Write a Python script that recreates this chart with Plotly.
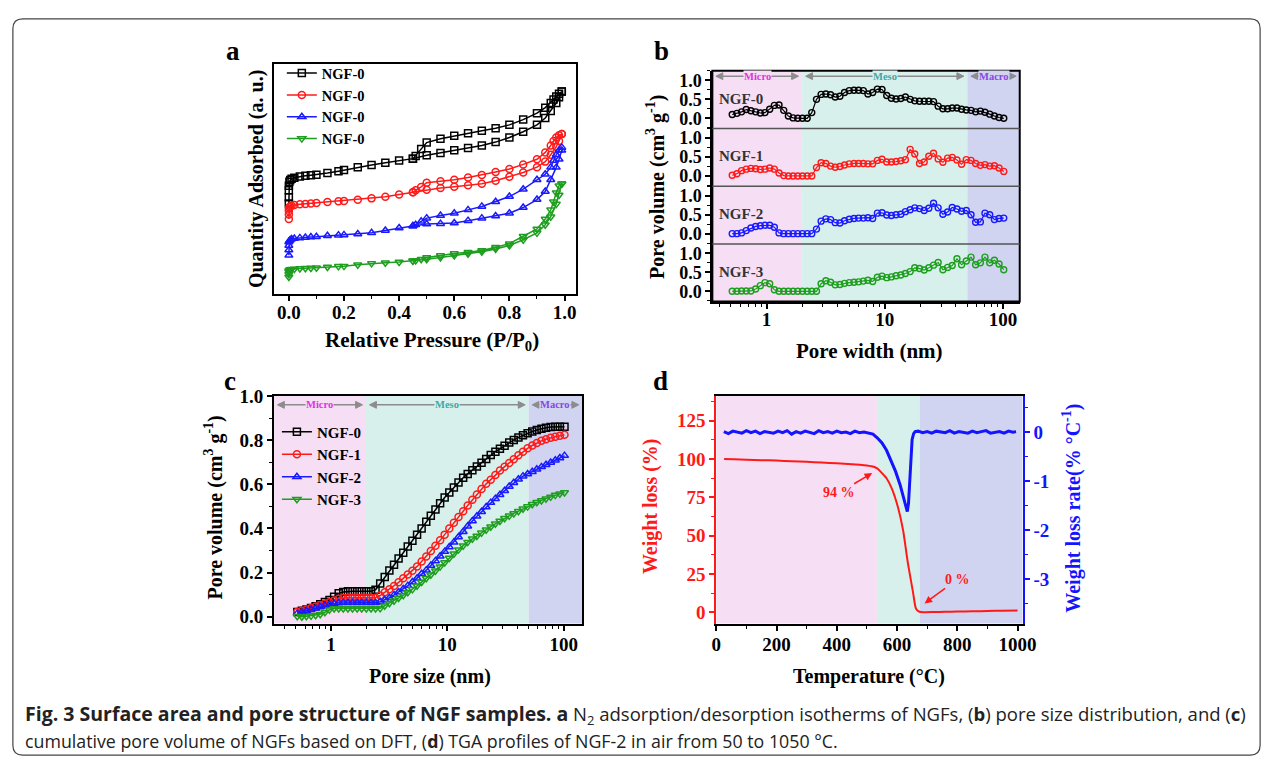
import math
import plotly.graph_objects as go

# ---------------- data ----------------
# (a) N2 adsorption / desorption isotherms (relative pressure, arbitrary units)
p_ads = [0.0, 0.0, 0.0, 0.0, 0.002, 0.005, 0.01, 0.02, 0.04, 0.06, 0.08, 0.1, 0.14, 0.18, 0.2,
         0.25, 0.3, 0.35, 0.4, 0.45, 0.5, 0.55, 0.6, 0.65, 0.7, 0.75, 0.8, 0.85, 0.9, 0.93,
         0.95, 0.97, 0.98, 0.99]
p_des = [0.99, 0.98, 0.97, 0.96, 0.95, 0.93, 0.9, 0.85, 0.8, 0.75, 0.7, 0.65, 0.6, 0.55, 0.5,
         0.48, 0.46, 0.45]
iso0_ads = [39.3, 42, 45, 47, 48.7, 49.5, 50.0, 50.5, 51, 51.3, 51.6, 51.8, 52.5, 53.3, 53.8, 55,
            56, 57, 58, 58.8, 60.3, 61.3, 62.4, 63.4, 64.5, 66, 68, 70.5, 73.5, 76.5, 79.5, 83,
            85.5, 88]
iso0_des = [88, 87, 85.8, 84.5, 83, 81, 78.6, 75.8, 73.5, 72, 70.9, 69.8, 68.8, 67.5, 65.8, 63,
            60, 58.8]
iso1_ads = [32.5, 34.5, 36, 37, 37.6, 38, 38.3, 38.6, 38.9, 39.1, 39.3, 39.5, 39.9, 40.2, 40.4,
            40.9, 41.5, 42.2, 43.2, 44.2, 45.3, 46, 46.6, 47.2, 47.9, 49.2, 50.9, 52.8, 55.1,
            57.5, 60.5, 64, 66.5, 69.5]
iso1_des = [69.5, 69, 68, 66.5, 64.5, 61.5, 58.5, 56.3, 54.3, 53, 51.7, 50.6, 49.6, 49, 48.3,
            46.5, 45, 44.2]
iso2_ads = [16.7, 19, 21, 22.5, 23, 23.4, 23.8, 24, 24.3, 24.5, 24.7, 24.8, 25.2, 25.5, 25.6, 26,
            26.5, 27.5, 28.6, 29.5, 30.3, 30.5, 30.8, 31.8, 32.9, 33.8, 35, 37.5, 41, 44.5, 49.6,
            55, 58.5, 62.4]
iso2_des = [63.7, 62.5, 60.5, 58, 55.1, 52, 49.6, 45.5, 42.3, 40, 38, 36.5, 35, 34, 32.9, 31.5,
            30, 29.5]
iso3_ads = [7.3, 8.5, 9.5, 10, 10.3, 10.5, 10.7, 10.8, 11, 11.1, 11.2, 11.3, 11.6, 11.9, 12, 12.6,
            13.2, 13.5, 13.8, 14.3, 15, 15.8, 16.6, 17.4, 18.3, 19.5, 21, 23.5, 26.5, 30, 33.5,
            39, 43, 47.9]
iso3_des = [47.9, 47, 44, 40, 36.5, 32.5, 28.2, 25, 21.8, 20.2, 18.8, 18, 17.5, 16.6, 15.8, 15,
            14.5, 14.3]
iso_legend_names = ["NGF-0", "NGF-0", "NGF-0", "NGF-0"]

# (b) pore size distribution and (c) cumulative pore volume (DFT), pore width in nm
pore_width = [0.513, 0.562, 0.615, 0.674, 0.738, 0.809, 0.887, 0.971, 1.064, 1.165, 1.276, 1.399,
              1.531, 1.679, 1.837, 2.014, 2.208, 2.415, 2.648, 2.897, 3.177, 3.483, 3.811, 4.178,
              4.571, 5.012, 5.495, 6.012, 6.592, 7.211, 7.907, 8.670, 9.484, 10.40, 11.38, 12.47,
              13.68, 14.96, 16.41, 17.95, 19.68, 21.58, 23.61, 25.88, 28.31, 31.05, 34.04, 37.24,
              40.83, 44.67, 48.98, 53.70, 58.75, 64.42, 70.47, 77.27, 84.72, 92.68, 101.6]
psd_ngf0 = [0.10, 0.13, 0.17, 0.23, 0.20, 0.17, 0.14, 0.15, 0.24, 0.34,
            0.35, 0.21, 0.06, 0.01, 0.0, 0.0, 0.0, 0.15, 0.50, 0.63,
            0.64, 0.62, 0.56, 0.58, 0.68, 0.73, 0.74, 0.74, 0.73, 0.64,
            0.68, 0.77, 0.76, 0.60, 0.53, 0.51, 0.52, 0.56, 0.50, 0.46,
            0.45, 0.45, 0.45, 0.44, 0.32, 0.25, 0.25, 0.27, 0.27, 0.24,
            0.22, 0.21, 0.17, 0.19, 0.16, 0.11, 0.06, 0.02, 0.0]
psd_ngf1 = [0.02, 0.06, 0.14, 0.18, 0.20, 0.19, 0.17, 0.18, 0.21, 0.18,
            0.08, 0.01, 0.0, 0.0, 0.0, 0.0, 0.0, 0.0, 0.22, 0.35,
            0.33, 0.26, 0.23, 0.25, 0.29, 0.32, 0.33, 0.33, 0.33, 0.32,
            0.32, 0.41, 0.44, 0.37, 0.37, 0.38, 0.40, 0.43, 0.70, 0.58,
            0.33, 0.37, 0.52, 0.60, 0.45, 0.36, 0.47, 0.49, 0.42, 0.31,
            0.43, 0.41, 0.33, 0.28, 0.30, 0.26, 0.27, 0.21, 0.12]
psd_ngf2 = [0.0, 0.0, 0.02, 0.08, 0.15, 0.19, 0.21, 0.22, 0.22, 0.17,
            0.02, 0.0, 0.0, 0.0, 0.0, 0.0, 0.0, 0.0, 0.12, 0.33,
            0.39, 0.37, 0.29, 0.28, 0.34, 0.38, 0.40, 0.41, 0.41, 0.42,
            0.40, 0.54, 0.55, 0.49, 0.48, 0.50, 0.51, 0.58, 0.63, 0.68,
            0.66, 0.61, 0.67, 0.80, 0.68, 0.51, 0.57, 0.69, 0.65, 0.59,
            0.61, 0.50, 0.30, 0.31, 0.54, 0.50, 0.37, 0.40, 0.41]
psd_ngf3 = [0.0, 0.0, 0.01, 0.01, 0.01, 0.06, 0.15, 0.23, 0.20, 0.04,
            0.0, 0.0, 0.0, 0.0, 0.0, 0.0, 0.0, 0.0, 0.0, 0.20,
            0.28, 0.24, 0.17, 0.18, 0.21, 0.23, 0.24, 0.25, 0.27, 0.29,
            0.26, 0.37, 0.40, 0.36, 0.38, 0.41, 0.43, 0.47, 0.52, 0.62,
            0.60, 0.56, 0.62, 0.69, 0.76, 0.57, 0.63, 0.68, 0.86, 0.70,
            0.80, 0.90, 0.70, 0.75, 0.90, 0.75, 0.82, 0.72, 0.57]
cum_ngf0 = [0.021, 0.027, 0.033, 0.039, 0.048, 0.057, 0.067, 0.076, 0.090, 0.106,
            0.112, 0.115, 0.115, 0.115, 0.115, 0.115, 0.115, 0.122, 0.150, 0.180,
            0.210, 0.236, 0.264, 0.290, 0.318, 0.344, 0.372, 0.400, 0.430, 0.458,
            0.486, 0.514, 0.540, 0.563, 0.586, 0.608, 0.630, 0.647, 0.664, 0.681,
            0.698, 0.715, 0.733, 0.748, 0.761, 0.775, 0.789, 0.801, 0.812, 0.822,
            0.831, 0.839, 0.846, 0.852, 0.856, 0.860, 0.861, 0.861, 0.861]
cum_ngf1 = [0.022, 0.027, 0.033, 0.039, 0.046, 0.053, 0.060, 0.066, 0.073, 0.081,
            0.085, 0.086, 0.086, 0.086, 0.086, 0.086, 0.086, 0.086, 0.096, 0.111,
            0.124, 0.139, 0.156, 0.174, 0.191, 0.208, 0.228, 0.250, 0.273, 0.298,
            0.322, 0.346, 0.372, 0.400, 0.426, 0.452, 0.478, 0.504, 0.530, 0.554,
            0.579, 0.602, 0.621, 0.642, 0.662, 0.680, 0.697, 0.714, 0.732, 0.748,
            0.763, 0.776, 0.787, 0.797, 0.804, 0.811, 0.816, 0.820, 0.824]
cum_ngf2 = [0.015, 0.020, 0.026, 0.033, 0.038, 0.044, 0.050, 0.055, 0.059, 0.062,
            0.063, 0.063, 0.063, 0.063, 0.063, 0.063, 0.063, 0.063, 0.068, 0.076,
            0.086, 0.099, 0.112, 0.126, 0.141, 0.157, 0.174, 0.195, 0.211, 0.232,
            0.253, 0.274, 0.295, 0.316, 0.337, 0.361, 0.385, 0.410, 0.434, 0.455,
            0.476, 0.497, 0.517, 0.535, 0.553, 0.571, 0.590, 0.607, 0.623, 0.637,
            0.647, 0.657, 0.668, 0.679, 0.689, 0.699, 0.709, 0.719, 0.730]
cum_ngf3 = [0.002, 0.0, 0.002, 0.004, 0.007, 0.011, 0.020, 0.032, 0.037, 0.037,
            0.037, 0.037, 0.037, 0.037, 0.037, 0.037, 0.037, 0.037, 0.038, 0.050,
            0.061, 0.072, 0.085, 0.097, 0.111, 0.124, 0.140, 0.157, 0.174, 0.190,
            0.208, 0.227, 0.246, 0.266, 0.285, 0.304, 0.322, 0.338, 0.353, 0.366,
            0.380, 0.394, 0.408, 0.421, 0.434, 0.446, 0.457, 0.468, 0.478, 0.489,
            0.499, 0.510, 0.519, 0.527, 0.535, 0.543, 0.551, 0.557, 0.563]
sample_names = ["NGF-0", "NGF-1", "NGF-2", "NGF-3"]
pore_regions = [("Micro", 2.0), ("Meso", 50.0), ("Macro", None)]   # upper bounds, nm

# (d) TGA of NGF-2 in air
tga_T = [26, 60, 100, 150, 200, 250, 300, 350, 400, 450, 490, 516, 535, 549, 565, 582, 603, 620,
         636, 653, 663, 674, 690, 720, 760, 800, 850, 900, 950, 1000]
tga_weight = [100, 99.8, 99.6, 99.3, 99.0, 98.6, 98.2, 97.7, 97.2, 96.6, 96.0, 95.3, 93.8, 91.0,
              87.5, 81.0, 68.5, 53.5, 32.0, 13.0, 2.2, 0.3, 0.0, 0.1, 0.3, 0.4, 0.6, 0.8, 1.0, 1.2]
dtg_T = [25, 40, 55, 70, 85, 100, 115, 130, 145, 160, 175, 190, 205, 220, 235, 250, 265, 280, 295,
         310, 325, 340, 355, 370, 385, 400, 415, 430, 445, 460, 475, 490, 505, 520, 535, 550, 565,
         580, 595, 610, 620, 628, 634, 638, 642, 646, 650, 655, 660, 670, 685, 700, 715, 730, 745,
         760, 775, 790, 805, 820, 835, 850, 865, 880, 895, 910, 925, 940, 955, 970, 985, 995]
dtg_rate = [0.01, -0.03, 0.02, 0.0, -0.02, 0.03, -0.01, 0.02, -0.03, 0.01, 0.0, -0.02, 0.02, -0.01,
            0.03, -0.04, 0.01, -0.02, 0.02, 0.0, -0.03, 0.03, -0.01, 0.01, -0.02, 0.02, -0.01, 0.0,
            -0.03, 0.02, -0.01, 0.0, -0.02,
            -0.04, -0.12, -0.22, -0.37, -0.57, -0.80, -1.07, -1.30, -1.50, -1.62, -1.45, -0.95,
            -0.50, -0.15, -0.03, 0.01,
            0.02, -0.01, 0.01, -0.02, 0.02, 0.0, -0.01, 0.03, -0.02, 0.01, 0.0, -0.02, 0.02, -0.01,
            0.01, 0.03, -0.02, 0.0, 0.01, -0.02, 0.02, 0.0, 0.01]
tga_regions = [0, 533, 675, 1017]   # region boundaries, deg C
tga_notes = [("94 %", 523, 91.5, 407, 78), ("0 %", 686, 5.0, 800, 21.5)]

# ---------------- styling / layout helpers ----------------
W, H = 1282, 765
SERIF = "Liberation Serif"
COLORS = ["#000000", "#ff1a1a", "#1a1aff", "#1e9e1e"]
SYM = ["square-open", "circle-open", "triangle-up-open", "triangle-down-open"]
REG_COL = ["rgb(246,222,244)", "rgb(216,240,236)", "rgb(208,212,240)"]
REG_TXT = ["#e033e0", "#3aa9a9", "#8a45e6"]
ARROW_COL = "#8c8c8c"
TICK = 19
TITLE = 20


def fx(px):
    return px / W


def fy(py):
    return 1 - py / H


fig = go.Figure()

# panel a
iso_ads = [iso0_ads, iso1_ads, iso2_ads, iso3_ads]
iso_des = [iso0_des, iso1_des, iso2_des, iso3_des]
for i in range(4):
    fig.add_trace(go.Scatter(
        x=p_ads + p_des, y=iso_ads[i] + iso_des[i], mode="lines+markers",
        name=iso_legend_names[i], legend="legend",
        line=dict(color=COLORS[i], width=1.5),
        marker=dict(symbol=SYM[i], size=7, color=COLORS[i], line=dict(width=1.5, color=COLORS[i])),
        xaxis="x", yaxis="y"))

# panel b
psd = [psd_ngf0, psd_ngf1, psd_ngf2, psd_ngf3]
for i in range(4):
    fig.add_trace(go.Scatter(
        x=pore_width, y=psd[i], mode="lines+markers", showlegend=False,
        line=dict(color=COLORS[i], width=1.2),
        marker=dict(symbol="circle-open", size=6, color=COLORS[i], line=dict(width=1.4, color=COLORS[i])),
        xaxis="x2", yaxis="y%d" % (2 + i)))

# panel c
cum = [cum_ngf0, cum_ngf1, cum_ngf2, cum_ngf3]
for i in range(4):
    fig.add_trace(go.Scatter(
        x=pore_width, y=cum[i], mode="lines+markers", name=sample_names[i], legend="legend2",
        line=dict(color=COLORS[i], width=1.5),
        marker=dict(symbol=SYM[i], size=7, color=COLORS[i], line=dict(width=1.5, color=COLORS[i])),
        xaxis="x3", yaxis="y6"))

# panel d
fig.add_trace(go.Scatter(x=tga_T, y=tga_weight, mode="lines", showlegend=False,
                         line=dict(color="#ff1a1a", width=2, shape="spline", smoothing=0.6),
                         xaxis="x4", yaxis="y7"))
fig.add_trace(go.Scatter(x=dtg_T, y=dtg_rate, mode="lines", showlegend=False,
                         line=dict(color="#1414ff", width=3),
                         xaxis="x4", yaxis="y8"))

tickfont = dict(family=SERIF, size=TICK, color="black", weight="bold")
common = dict(showline=True, linecolor="black", linewidth=2, ticks="outside", ticklen=5,
              tickwidth=1.5, tickcolor="black", showgrid=False, zeroline=False, tickfont=tickfont)
log_minor = [m * 10 ** e for e in (-1, 0, 1, 2) for m in range(2, 10)]

# geometry (pixels)
A_BOX = (273, 580, 55, 289)
B_BOX = (718, 1030, 62, 297)
C_BOX = (273, 586, 393, 625)
D_BOX = (722, 1033, 393, 625)
B_RANGE = [-0.458, 2.142]
B_YRANGE = [-0.27, 1.25]
C_RANGE = [-0.49, 2.16]
C_YRANGE = [-0.031, 1.001]
b_h = (B_BOX[3] - B_BOX[2]) / 4.0

layout = dict(
    width=W, height=H, autosize=False, margin=dict(l=0, r=0, t=0, b=0),
    paper_bgcolor="white", plot_bgcolor="rgba(0,0,0,0)",
    font=dict(family=SERIF, size=16, color="black", weight="bold"),
    xaxis=dict(common, domain=[fx(A_BOX[0]), fx(A_BOX[1])], anchor="y", range=[-0.054, 1.043],
               tick0=0, dtick=0.2, tickformat=".1f", mirror=True, ticklabelstandoff=-5,
               minor=dict(dtick=0.1, ticks="outside", ticklen=3, tickcolor="black", tickwidth=1.2)),
    yaxis=dict(common, domain=[fy(A_BOX[3]), fy(A_BOX[2])], anchor="x", range=[0, 100],
               showticklabels=False, ticks="", mirror=True),
    xaxis2=dict(common, type="log", domain=[fx(B_BOX[0]), fx(B_BOX[1])], anchor="y5", range=B_RANGE,
                tickvals=[1, 10, 100], ticktext=["1", "10", "100"], ticklabelstandoff=-5,
                minor=dict(tickvals=log_minor, ticks="outside", ticklen=3, tickcolor="black", tickwidth=1.2)),
    xaxis3=dict(common, type="log", domain=[fx(C_BOX[0]), fx(C_BOX[1])], anchor="y6", range=C_RANGE,
                tickvals=[1, 10, 100], ticktext=["1", "10", "100"], mirror=True, ticklabelstandoff=-2,
                minor=dict(tickvals=log_minor, ticks="outside", ticklen=3, tickcolor="black", tickwidth=1.2)),
    yaxis6=dict(common, domain=[fy(C_BOX[3]), fy(C_BOX[2])], anchor="x3", range=C_YRANGE,
                tick0=0, dtick=0.2, tickformat=".1f", mirror=True,
                minor=dict(dtick=0.1, ticks="outside", ticklen=3, tickcolor="black", tickwidth=1.2)),
    xaxis4=dict(common, domain=[fx(D_BOX[0]), fx(D_BOX[1])], anchor="y7", range=[0, 1017],
                tick0=0, dtick=200, mirror=True, ticklabelstandoff=-2,
                minor=dict(dtick=100, ticks="outside", ticklen=3, tickcolor="black", tickwidth=1.2)),
    yaxis7=dict(common, domain=[fy(D_BOX[3]), fy(D_BOX[2])], anchor="x4", range=[-7.4, 141.3],
                tickvals=[0, 25, 50, 75, 100, 125], linecolor="#ff1a1a", tickcolor="#ff1a1a",
                tickfont=dict(tickfont, color="#ff1a1a"),
                minor=dict(dtick=12.5, ticks="outside", ticklen=3, tickcolor="#ff1a1a", tickwidth=1.2)),
    yaxis8=dict(common, overlaying="y7", side="right", anchor="x4", range=[-3.9, 0.74],
                tickvals=[0, -1, -2, -3, -4], ticktext=["0", "-1", "-2", "-3", "-4"],
                linecolor="#1414ff", tickcolor="#1414ff",
                tickfont=dict(tickfont, color="#1414ff"),
                minor=dict(dtick=0.5, ticks="outside", ticklen=3, tickcolor="#1414ff", tickwidth=1.2)),
    legend=dict(x=fx(281), y=fy(48), xanchor="left", yanchor="top", bgcolor="rgba(0,0,0,0)",
                font=dict(family=SERIF, size=14.5, weight="bold", color="black"), tracegroupgap=0,
                itemwidth=30),
    legend2=dict(x=fx(276), y=fy(413), xanchor="left", yanchor="top", bgcolor="rgba(0,0,0,0)",
                 font=dict(family=SERIF, size=15, weight="bold", color="black"), tracegroupgap=0,
                 itemwidth=30),
)
for i in range(4):
    top = B_BOX[2] + i * b_h
    layout["yaxis%d" % (2 + i)] = dict(
        common, domain=[fy(top + b_h), fy(top)], anchor="x2", range=B_YRANGE,
        tickvals=[0, 0.5, 1.0], tickformat=".1f",
        tickfont=dict(tickfont, size=18),
        minor=dict(dtick=0.25, ticks="outside", ticklen=3, tickcolor="black", tickwidth=1.2))
fig.update_layout(**layout)

shapes = []
# region shading b / c
for xref, rng, yref, y0, y1 in [("x2", B_RANGE, "paper", fy(B_BOX[3]), fy(B_BOX[2])),
                                ("x3", C_RANGE, "y6 domain", 0, 1)]:
    lo = 10 ** rng[0]
    bounds = [lo] + [b if b is not None else 10 ** rng[1] for _, b in pore_regions]
    for k in range(3):
        shapes.append(dict(type="rect", xref=xref, yref=yref, x0=bounds[k], x1=bounds[k + 1],
                           y0=y0, y1=y1, fillcolor=REG_COL[k], line=dict(width=0), layer="below"))
# region shading d
for k in range(3):
    shapes.append(dict(type="rect", xref="x4", yref="y7 domain", x0=tga_regions[k], x1=tga_regions[k + 1],
                       y0=0, y1=1, fillcolor=REG_COL[k], line=dict(width=0), layer="below"))
# frame and dividers of b
shapes.append(dict(type="rect", xref="paper", yref="paper", x0=fx(B_BOX[0]), x1=fx(B_BOX[1]),
                   y0=fy(B_BOX[3]), y1=fy(B_BOX[2]), line=dict(color="black", width=2)))
for i in range(1, 4):
    yy = fy(B_BOX[2] + i * b_h)
    shapes.append(dict(type="line", xref="paper", yref="paper", x0=fx(B_BOX[0]), x1=fx(B_BOX[1]),
                       y0=yy, y1=yy, line=dict(color="#555555", width=1.5)))
# page border (rounded)
x0, x1, yt, yb = fx(8), fx(1274), fy(9), fy(759)
rx, ry = 10 / W, 10 / H
path = ("M %f,%f L %f,%f Q %f,%f %f,%f L %f,%f Q %f,%f %f,%f L %f,%f Q %f,%f %f,%f L %f,%f Q %f,%f %f,%f Z"
        % (x0 + rx, yt, x1 - rx, yt, x1, yt, x1, yt - ry, x1, yb + ry, x1, yb, x1 - rx, yb,
           x0 + rx, yb, x0, yb, x0, yb + ry, x0, yt - ry, x0, yt, x0 + rx, yt))
shapes.append(dict(type="path", xref="paper", yref="paper", path=path,
                   line=dict(color="#444444", width=1.2), layer="below"))

ann = []

# Micro / Meso / Macro double arrows with labels (b and c)
b_top_dom = (fy(B_BOX[2] + b_h), fy(B_BOX[2]))
for xrng, xdom, yrng, ydom, yv, xref, yref in [
        (B_RANGE, (fx(B_BOX[0]), fx(B_BOX[1])), B_YRANGE, b_top_dom, 1.11, "x2", "y2"),
        (C_RANGE, (fx(C_BOX[0]), fx(C_BOX[1])), C_YRANGE, (fy(C_BOX[3]), fy(C_BOX[2])), 0.96, "x3", "y6")]:
    def xp(lv):
        return xdom[0] + (lv - xrng[0]) / (xrng[1] - xrng[0]) * (xdom[1] - xdom[0])
    yp = ydom[0] + (yv - yrng[0]) / (yrng[1] - yrng[0]) * (ydom[1] - ydom[0])
    bnds = [xrng[0]] + [math.log10(b) if b is not None else xrng[1] for _, b in pore_regions]
    hw, hh = 7.0 / W, 3.5 / H
    for k in range(3):
        a0, a1 = bnds[k] + 0.03, bnds[k + 1] - 0.03
        p0, p1 = xp(a0), xp(a1)
        shapes.append(dict(type="line", xref="paper", yref="paper", x0=p0 + hw * 0.5, x1=p1 - hw * 0.5,
                           y0=yp, y1=yp, line=dict(color=ARROW_COL, width=1.5)))
        shapes.append(dict(type="path", xref="paper", yref="paper", fillcolor=ARROW_COL,
                           line=dict(color=ARROW_COL, width=1),
                           path="M %f,%f L %f,%f L %f,%f Z" % (p1, yp, p1 - hw, yp + hh, p1 - hw, yp - hh)))
        shapes.append(dict(type="path", xref="paper", yref="paper", fillcolor=ARROW_COL,
                           line=dict(color=ARROW_COL, width=1),
                           path="M %f,%f L %f,%f L %f,%f Z" % (p0, yp, p0 + hw, yp + hh, p0 + hw, yp - hh)))
        ann.append(dict(x=(a0 + a1) / 2, y=yv, xref=xref, yref=yref, text=pore_regions[k][0],
                        showarrow=False, bgcolor=REG_COL[k], borderpad=0,
                        font=dict(family=SERIF, size=10.5, color=REG_TXT[k], weight="bold")))
fig.update_layout(shapes=shapes)


def text(px, py, s, size=TITLE, color="black", angle=0, xanchor="center", weight="bold", family=SERIF):
    ann.append(dict(x=fx(px), y=fy(py), xref="paper", yref="paper", text=s, showarrow=False,
                    textangle=angle, xanchor=xanchor, yanchor="middle",
                    font=dict(family=family, size=size, color=color, weight=weight)))


# panel letters
text(231, 42, "a", 27)
text(666, 42, "b", 27)
text(228, 378, "c", 27)
text(665, 378, "d", 27)
# axis titles
text(256, 172, "Quantity Adsorbed (a. u.)", angle=-90)
text(433, 337, "Relative Pressure (P/P<sub>0</sub>)", 21)
text(661, 180, "Pore volume (cm<sup>3</sup> g<sup>-1</sup>)", angle=-90)
text(877, 347, "Pore width (nm)", 21)
text(212, 507, "Pore volume (cm<sup>3</sup> g<sup>-1</sup>)", angle=-90)
text(431, 679, "Pore size (nm)")
text(655, 505, "Weight loss (%)", color="#ff1a1a", angle=-90)
text(1083, 507, "Weight loss rate(% °C<sup>-1</sup>)", color="#1414ff", angle=-90)
text(877, 679, "Temperature (°C)")

# sample labels in b
for i in range(4):
    ann.append(dict(x=0.015, y=0.52, xref="x2 domain", yref="y%d" % (2 + i), text=sample_names[i],
                    showarrow=False, xanchor="left", yanchor="middle",
                    font=dict(family=SERIF, size=15, color="#333333", weight="bold")))

# notes in d
for s, hx, hy, tx, ty in tga_notes:
    ann.append(dict(x=hx, y=hy, ax=tx, ay=ty, xref="x4", yref="y7", axref="x4", ayref="y7",
                    text=s, showarrow=True, arrowhead=2, arrowsize=1, arrowwidth=1.5,
                    arrowcolor="#ff1a1a", standoff=2,
                    font=dict(family=SERIF, size=14, color="#ff1a1a", weight="bold")))

# caption
CAP = "Open Sans"
BSPAN = '<span style="font-size:19.5px"><b>%s</b></span>'
ann.append(dict(x=fx(18), y=fy(718), xref="paper", yref="paper", xanchor="left", yanchor="middle",
                showarrow=False,
                text=(BSPAN % "Fig. 3 Surface area and pore structure of NGF samples. a") +
                     " N<sub>2</sub> adsorption/desorption isotherms of NGFs, (<b>b</b>) pore size "
                     "distribution, and (<b>c</b>)",
                font=dict(family=CAP, size=18.5, color="#222222", weight="normal")))
ann.append(dict(x=fx(18), y=fy(745), xref="paper", yref="paper", xanchor="left", yanchor="middle",
                showarrow=False,
                text="cumulative pore volume of NGFs based on DFT, (<b>d</b>) TGA profiles of NGF-2 in air "
                     "from 50 to 1050 °C.",
                font=dict(family=CAP, size=17.8, color="#222222", weight="normal")))
fig.update_layout(annotations=ann)

fig.write_html("out.html")
